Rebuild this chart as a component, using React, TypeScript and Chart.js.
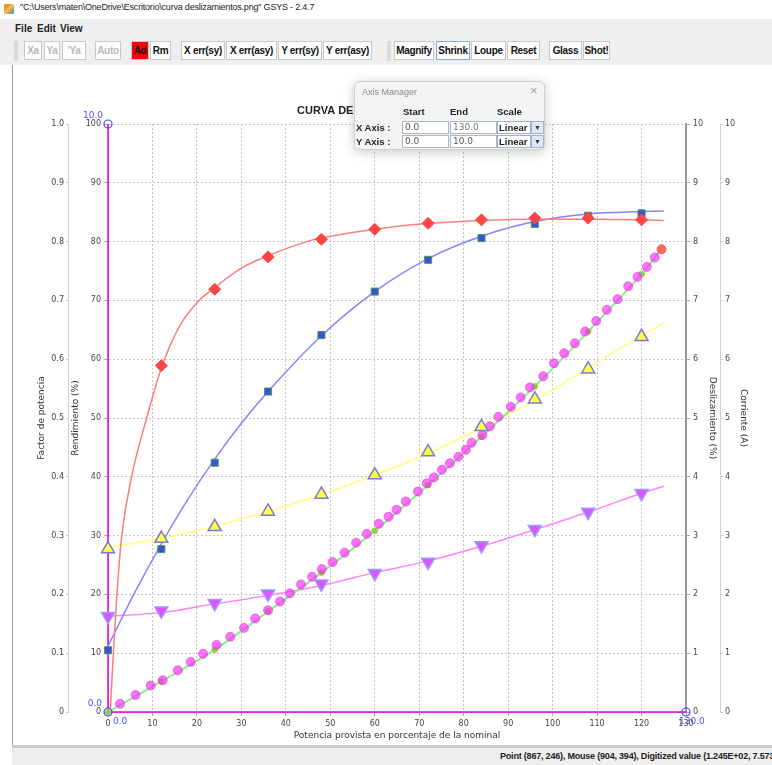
import React, { useEffect, useRef } from "react";
import { Chart, registerables } from "chart.js";

Chart.register(...registerables);

// ---------- DATA ----------
const xTickMax = 130;
const cargaX = [0, 12, 24, 36, 48, 60, 72, 84, 96, 108, 120];
const fpX = [12, 24, 36, 48, 60, 72, 84, 96, 108, 120];
const fpY = [0.589, 0.719, 0.774, 0.804, 0.821, 0.831, 0.837, 0.84, 0.84, 0.837];
const rendY = [10.5, 27.7, 42.4, 54.5, 64.1, 71.5, 76.9, 80.6, 83.0, 84.4, 84.8];
const deslY = [2.77, 2.95, 3.15, 3.41, 3.7, 4.03, 4.42, 4.85, 5.32, 5.83, 6.38];
const corrY = [1.63, 1.72, 1.85, 2.01, 2.18, 2.36, 2.55, 2.83, 3.11, 3.4, 3.72];
const digY = [0, 0.52, 1.06, 1.71, 2.37, 3.08, 3.86, 4.68, 5.54, 6.47, 7.45];

const fpFitX = [0.5, 1.2, 2, 3.1, 5.3, 8.7, 12, 16, 20.5, 24, 30, 36, 44.7, 48, 60, 72, 84, 96, 108, 120, 125];
const fpFitY = [0, 0.1, 0.2, 0.3, 0.4, 0.5, 0.585, 0.655, 0.7, 0.722, 0.755, 0.776, 0.8, 0.806, 0.821, 0.831, 0.836, 0.838, 0.838, 0.837, 0.836];
const rendFitX = [0, 6, 12, 18, 24, 30, 36, 48, 60, 72, 84, 96, 108, 120, 125];
const rendFitY = [11.2, 20.3, 28.6, 36.2, 43.0, 49.1, 54.5, 64.0, 71.5, 77.1, 80.9, 83.4, 84.7, 85.1, 85.2];
const fitX = [0, 12, 24, 36, 48, 60, 72, 84, 96, 108, 120, 125];
const deslFitY = [2.8, 2.95, 3.16, 3.41, 3.7, 4.03, 4.4, 4.83, 5.3, 5.85, 6.4, 6.62];
const corrFitY = [1.63, 1.69, 1.84, 1.98, 2.15, 2.37, 2.57, 2.82, 3.1, 3.4, 3.72, 3.84];
const digLineX = [0, 12, 24, 36, 48, 60, 72, 84, 96, 108, 120, 124.5];
const digLineY = [0, 0.52, 1.06, 1.71, 2.37, 3.08, 3.86, 4.68, 5.54, 6.47, 7.45, 7.87];

const circX = [2.7, 6.2, 9.6, 12.3, 15.7, 18.6, 21.4, 24.4, 27.5, 30.6, 33.1, 36.0, 38.7, 40.9, 43.4, 45.9, 48.1, 50.5, 53.2, 55.8, 58.2, 60.9, 63.1, 64.9, 67.0, 69.7, 71.7, 73.3, 75.1, 76.9, 78.8, 80.5, 81.8, 84.2, 85.9, 87.8, 90.6, 92.8, 94.9, 97.9, 100.3, 102.6, 105.0, 107.3, 109.8, 112.2, 114.6, 117.0, 119.1, 121.2, 123.0];
const circY = [0.14, 0.29, 0.45, 0.54, 0.71, 0.85, 0.99, 1.14, 1.28, 1.43, 1.59, 1.73, 1.88, 2.02, 2.17, 2.3, 2.43, 2.55, 2.71, 2.88, 3.03, 3.2, 3.32, 3.44, 3.58, 3.75, 3.89, 3.99, 4.12, 4.23, 4.34, 4.46, 4.58, 4.71, 4.86, 5.02, 5.19, 5.35, 5.52, 5.71, 5.93, 6.1, 6.27, 6.47, 6.65, 6.84, 7.02, 7.24, 7.4, 7.57, 7.73];
const endX = [124.5];
const endY = [7.87];

const calX = [0, 0, 130];
const calY = [0, 10, 0];
const calLabels = ["0.0", "10.0", "130.0"];

const pts = (xs: number[], ys: number[]) => xs.map((x, i) => ({ x, y: ys[i] }));

const tickFont = { family: '"DejaVu Sans", sans-serif', size: 8 };
const titleFont = { family: '"DejaVu Sans", sans-serif', size: 9 };
const tickColor = "#444";
const titleColor = "#333";

const overlayPlugin = {
  id: "overlay",
  afterDraw(chart: any) {
    const { ctx, scales, chartArea } = chart;
    const x = scales.x;
    const yD = scales.yD;
    const x0 = x.getPixelForValue(calX[0]);
    const x130 = x.getPixelForValue(calX[2]);
    const y0 = yD.getPixelForValue(calY[0]);
    const y10 = yD.getPixelForValue(calY[1]);
    ctx.save();
    ctx.fillStyle = "#5050ff";
    ctx.font = '9px "DejaVu Sans", sans-serif';
    ctx.textBaseline = "middle";
    ctx.textAlign = "right";
    ctx.fillText(calLabels[1], x0 - 5, y10 - 8);
    ctx.fillText(calLabels[0], x0 - 6, y0 - 8);
    ctx.textAlign = "left";
    ctx.fillText(calLabels[0], x0 + 5, y0 + 10);
    ctx.fillText(calLabels[2], x130 - 7, y0 + 10);
    // title
    ctx.fillStyle = "#222";
    ctx.font = 'bold 11px "Liberation Sans", Arial, sans-serif';
    ctx.textAlign = "left";
    ctx.fillText("CURVA DE DESLIZAMIENTOS", chartArea.left + 189, chartArea.top - 13);
    ctx.restore();
  },
};

function ChartCanvas() {
  const ref = useRef<HTMLCanvasElement | null>(null);
  useEffect(() => {
    if (!ref.current) return;
    const lineDs = (label: string, data: any, color: string, axis: string, width = 1.5) => ({
      label,
      data,
      yAxisID: axis,
      showLine: true,
      borderColor: color,
      borderWidth: width,
      pointRadius: 0,
      cubicInterpolationMode: "monotone",
      clip: false,
    });
    const chart = new Chart(ref.current, {
      type: "scatter",
      data: {
        datasets: [
          {
            label: "calibración",
            data: pts(calX, calY),
            yAxisID: "yD",
            pointStyle: "circle",
            pointRadius: 4,
            backgroundColor: "rgba(255,255,255,0)",
            borderColor: "#4646ff",
            borderWidth: 1.2,
            clip: false,
          },
          {
            label: "fin",
            data: pts(endX, endY),
            yAxisID: "yD",
            pointRadius: 4.5,
            backgroundColor: "rgba(255,70,60,0.8)",
            borderColor: "rgba(230,80,60,0.8)",
            borderWidth: 1,
            clip: false,
          },
          {
            label: "Deslizamiento",
            data: pts(cargaX, deslY),
            yAxisID: "yD",
            pointStyle: "triangle",
            pointRadius: 7.5,
            backgroundColor: "#ffff44",
            borderColor: "#7a7ad8",
            borderWidth: 1.5,
            clip: false,
          },
          {
            label: "Corriente",
            data: pts(cargaX, corrY),
            yAxisID: "yC",
            pointStyle: "triangle",
            pointRotation: 180,
            pointRadius: 7.5,
            backgroundColor: "#dd55ff",
            borderColor: "#9a9aff",
            borderWidth: 1.5,
            clip: false,
          },
          {
            label: "Factor de potencia",
            data: pts(fpX, fpY),
            yAxisID: "yFP",
            pointStyle: "rectRot",
            pointRadius: 6,
            backgroundColor: "#ff4646",
            borderColor: "#ff4646",
            borderWidth: 1,
            clip: false,
          },
          {
            label: "Rendimiento",
            data: pts(cargaX, rendY),
            yAxisID: "y",
            pointStyle: "rect",
            pointRadius: 5,
            backgroundColor: "#3a50e0",
            borderColor: "#4e9a4e",
            borderWidth: 1,
            clip: false,
          },
          {
            label: "puntos",
            data: pts(circX, circY),
            yAxisID: "yD",
            pointRadius: 4.5,
            backgroundColor: "rgba(255,40,255,0.66)",
            borderColor: "rgba(215,60,215,0.6)",
            borderWidth: 1,
            clip: false,
          },
          {
            label: "digitalizado",
            data: pts(cargaX, digY),
            yAxisID: "yD",
            pointRadius: 3,
            backgroundColor: "#5ee05e",
            borderColor: "#e0c040",
            borderWidth: 1,
            clip: false,
          },
          lineDs("ajuste digitalizado", pts(digLineX, digLineY), "#8cee8c", "yD", 2),
          lineDs("ajuste FP", pts(fpFitX, fpFitY), "#ff7c7c", "yFP"),
          lineDs("ajuste rendimiento", pts(rendFitX, rendFitY), "#8484ff", "y"),
          lineDs("ajuste deslizamiento", pts(fitX, deslFitY), "#ffff80", "yD"),
          lineDs("ajuste corriente", pts(fitX, corrFitY), "#ff84ff", "yC"),
          lineDs("eje Y", pts([0, 0], [0, 10]), "#f000f0", "yD", 1.5),
          lineDs("eje X", pts([0, 130], [0, 0]), "#f000f0", "yD", 1.5),
        ] as any,
      },
      options: {
        responsive: false,
        animation: false,
        layout: { padding: { top: 59, left: 20, right: 21, bottom: 0 } },
        plugins: {
          legend: { display: false },
          tooltip: { enabled: false },
          title: { display: false },
        },
        scales: {
          x: {
            type: "linear",
            min: 0,
            max: xTickMax,
            ticks: { stepSize: 10, font: tickFont, color: tickColor, padding: 3, autoSkip: false, maxRotation: 0 },
            grid: { color: "#c4c4c4", tickLength: 4, tickColor: "#aaa" },
            border: { color: "#aaa", dash: [2, 2] },
            title: {
              display: true,
              text: "Potencia provista en porcentaje de la nominal",
              font: titleFont,
              color: titleColor,
              padding: { top: 0, bottom: 4 },
            },
            afterFit: (s: any) => {
              s.height = 33;
            },
          },
          y: {
            type: "linear",
            position: "left",
            weight: 0,
            min: 0,
            max: 100,
            ticks: { stepSize: 10, font: tickFont, color: tickColor, padding: 3 },
            grid: { color: "#c4c4c4", tickLength: 4, tickColor: "#aaa" },
            border: { color: "#999", dash: [2, 2] },
            title: { display: true, text: "Rendimiento (%)", font: titleFont, color: titleColor, padding: 2 },
            afterFit: (s: any) => {
              s.width = 40;
            },
          },
          yFP: {
            type: "linear",
            position: "left",
            weight: 1,
            min: 0,
            max: 1,
            ticks: { stepSize: 0.1, font: tickFont, color: tickColor, padding: 2 },
            grid: { drawOnChartArea: false, tickLength: 2, tickColor: "#ccc" },
            border: { color: "#d0d0d0" },
            title: { display: true, text: "Factor de potencia", font: titleFont, color: titleColor, padding: 3 },
            afterFit: (s: any) => {
              s.width = 35;
            },
          },
          yD: {
            type: "linear",
            position: "right",
            weight: 0,
            min: 0,
            max: 10,
            ticks: { stepSize: 1, font: tickFont, color: tickColor, padding: 3 },
            grid: { drawOnChartArea: false, tickLength: 4, tickColor: "#aaa" },
            border: { color: "#999", width: 2 },
            title: { display: true, text: "Deslizamiento (%)", font: titleFont, color: titleColor, padding: 2.5 },
            afterFit: (s: any) => {
              s.width = 34;
            },
          },
          yC: {
            type: "linear",
            position: "right",
            weight: 1,
            min: 0,
            max: 10,
            ticks: { stepSize: 1, font: tickFont, color: tickColor, padding: 2 },
            grid: { drawOnChartArea: false, tickLength: 3, tickColor: "#ccc" },
            border: { color: "#d0d0d0" },
            title: { display: true, text: "Corriente (A)", font: titleFont, color: titleColor, padding: 2 },
            afterFit: (s: any) => {
              s.width = 31;
            },
          },
        },
      } as any,
      plugins: [overlayPlugin],
    });
    return () => chart.destroy();
  }, []);
  return <canvas ref={ref} width={759} height={680} style={{ position: "absolute", left: 13, top: 65 }} />;
}

const btnFont = '"Liberation Sans Narrow", "Liberation Sans", Arial, sans-serif';

function Btn({ left, width, text, disabled, red, focus }: any) {
  return (
    <div
      style={{
        position: "absolute",
        left,
        top: 41,
        width,
        height: 19,
        boxSizing: "border-box",
        background: red ? "#ff0000" : "#ffffff",
        border: focus ? "1px solid #8aa8d8" : "1px solid #c8c8c8",
        fontFamily: btnFont,
        fontWeight: "bold",
        fontSize: 10,
        color: disabled ? "#b8b8b8" : "#111",
        display: "flex",
        alignItems: "center",
        justifyContent: "center",
        whiteSpace: "nowrap",
        letterSpacing: -0.3,
      }}
    >
      {text}
    </div>
  );
}

function Grip({ left }: any) {
  return (
    <div
      style={{
        position: "absolute",
        left,
        top: 41,
        width: 4,
        height: 20,
        backgroundImage: "radial-gradient(circle, #c4c4c4 0.6px, transparent 0.8px)",
        backgroundSize: "2px 2px",
      }}
    />
  );
}

const inputBox = (left: number, top: number, width: number, text: string, gray = false) => (
  <div
    style={{
      position: "absolute",
      left,
      top,
      width,
      height: 13,
      boxSizing: "border-box",
      background: "#fff",
      border: "1px solid #a8b8cc",
      fontSize: 9,
      color: gray ? "#777" : "#555",
      paddingLeft: 2,
      lineHeight: "11px",
      fontFamily: '"DejaVu Sans", sans-serif',
    }}
  >
    {text}
  </div>
);

export default function App() {
  const buttons = [
    { left: 24, width: 18, text: "Xa", disabled: true },
    { left: 44, width: 16, text: "Ya", disabled: true },
    { left: 62, width: 24, text: "'Ya", disabled: true },
    { left: 95, width: 26, text: "Auto", disabled: true },
    { left: 131, width: 18, text: "Ad", red: true },
    { left: 150, width: 21, text: "Rm" },
    { left: 181, width: 44, text: "X err(sy)" },
    { left: 226, width: 51, text: "X err(asy)" },
    { left: 278, width: 44, text: "Y err(sy)" },
    { left: 323, width: 49, text: "Y err(asy)" },
    { left: 394, width: 40, text: "Magnify" },
    { left: 436, width: 34, text: "Shrink", focus: true },
    { left: 471, width: 35, text: "Loupe" },
    { left: 507, width: 33, text: "Reset" },
    { left: 549, width: 33, text: "Glass" },
    { left: 583, width: 27, text: "Shot!" },
  ];
  const lbl: any = { position: "absolute", fontFamily: btnFont, fontWeight: "bold", fontSize: 10, color: "#222" };
  return (
    <div
      style={{
        position: "fixed",
        left: 0,
        top: 0,
        width: 772,
        height: 765,
        overflow: "hidden",
        background: "#fff",
        fontFamily: '"Liberation Sans", Arial, sans-serif',
      }}
    >
      {/* title bar */}
      <div style={{ position: "absolute", left: 0, top: 0, width: 772, height: 19, background: "#fff" }}>
        <div
          style={{
            position: "absolute",
            left: 4,
            top: 4,
            width: 10,
            height: 10,
            background: "linear-gradient(135deg,#e07020,#f0c040 50%,#4080c0)",
            borderRadius: 2,
          }}
        />
        <span
          style={{
            position: "absolute",
            left: 20,
            top: 2,
            fontSize: 9,
            letterSpacing: -0.2,
            color: "#222",
            fontFamily: btnFont,
            whiteSpace: "nowrap",
          }}
        >
          "C:\Users\maten\OneDrive\Escritorio\curva deslizamientos.png" GSYS - 2.4.7
        </span>
      </div>
      {/* menu bar */}
      <div style={{ position: "absolute", left: 0, top: 19, width: 772, height: 19, background: "#efefef" }}>
        <span style={{ ...lbl, left: 15, top: 4 }}>File</span>
        <span style={{ ...lbl, left: 37, top: 4 }}>Edit</span>
        <span style={{ ...lbl, left: 60, top: 4 }}>View</span>
      </div>
      {/* toolbar */}
      <div style={{ position: "absolute", left: 0, top: 38, width: 772, height: 27, background: "#efefef" }} />
      <Grip left={14} />
      <Grip left={387} />
      {buttons.map((b, i) => (
        <Btn key={i} {...b} />
      ))}
      {/* main panel */}
      <div style={{ position: "absolute", left: 12, top: 65, width: 1, height: 681, background: "#9a9a9a" }} />
      <ChartCanvas />
      {/* status bar */}
      <div style={{ position: "absolute", left: 12, top: 745, width: 760, height: 3, background: "#c8c8c8" }} />
      <div style={{ position: "absolute", left: 12, top: 748, width: 760, height: 17, background: "#eeeeee" }}>
        <span
          style={{
            position: "absolute",
            left: 488,
            top: 3,
            fontFamily: btnFont,
            fontWeight: "bold",
            fontSize: 9,
            letterSpacing: -0.2,
            color: "#222",
            whiteSpace: "nowrap",
          }}
        >
          Point (867, 246), Mouse (904, 394), Digitized value (1.245E+02, 7.573E+00)
        </span>
      </div>
      {/* Axis Manager dialog */}
      <div
        style={{
          position: "absolute",
          left: 354,
          top: 81,
          width: 191,
          height: 69,
          boxSizing: "border-box",
          background: "#f4f4f4",
          border: "1px solid #cfcfcf",
          borderRadius: 6,
          boxShadow: "0 2px 12px rgba(0,0,0,0.22)",
        }}
      >
        <span style={{ position: "absolute", left: 7, top: 5, fontSize: 9, color: "#8a8a8a" }}>Axis Manager</span>
        <span style={{ position: "absolute", left: 175, top: 1, fontSize: 13, color: "#999" }}>×</span>
        <span style={{ ...lbl, fontSize: 9.5, left: 48, top: 24 }}>Start</span>
        <span style={{ ...lbl, fontSize: 9.5, left: 95, top: 24 }}>End</span>
        <span style={{ ...lbl, fontSize: 9.5, left: 142, top: 24 }}>Scale</span>
        <span style={{ ...lbl, fontSize: 9.5, left: 1, top: 40 }}>X Axis :</span>
        <span style={{ ...lbl, fontSize: 9.5, left: 1, top: 54 }}>Y Axis :</span>
        {inputBox(47, 39, 47, "0.0")}
        {inputBox(95, 39, 47, "130.0", true)}
        {inputBox(47, 53, 47, "0.0")}
        {inputBox(95, 53, 47, "10.0")}
        {[39, 53].map((t) => (
          <React.Fragment key={t}>
            <div
              style={{
                position: "absolute",
                left: 142,
                top: t,
                width: 34,
                height: 13,
                boxSizing: "border-box",
                background: "#fff",
                border: "1px solid #9fb2cc",
                fontFamily: btnFont,
                fontWeight: "bold",
                fontSize: 9.5,
                lineHeight: "11px",
                paddingLeft: 1,
                color: "#222",
              }}
            >
              Linear
            </div>
            <div
              style={{
                position: "absolute",
                left: 176,
                top: t,
                width: 13,
                height: 13,
                boxSizing: "border-box",
                background: "#dfe8f4",
                border: "1px solid #9fb2cc",
                fontSize: 7,
                lineHeight: "11px",
                textAlign: "center",
                color: "#333",
              }}
            >
              ▼
            </div>
          </React.Fragment>
        ))}
      </div>
    </div>
  );
}
